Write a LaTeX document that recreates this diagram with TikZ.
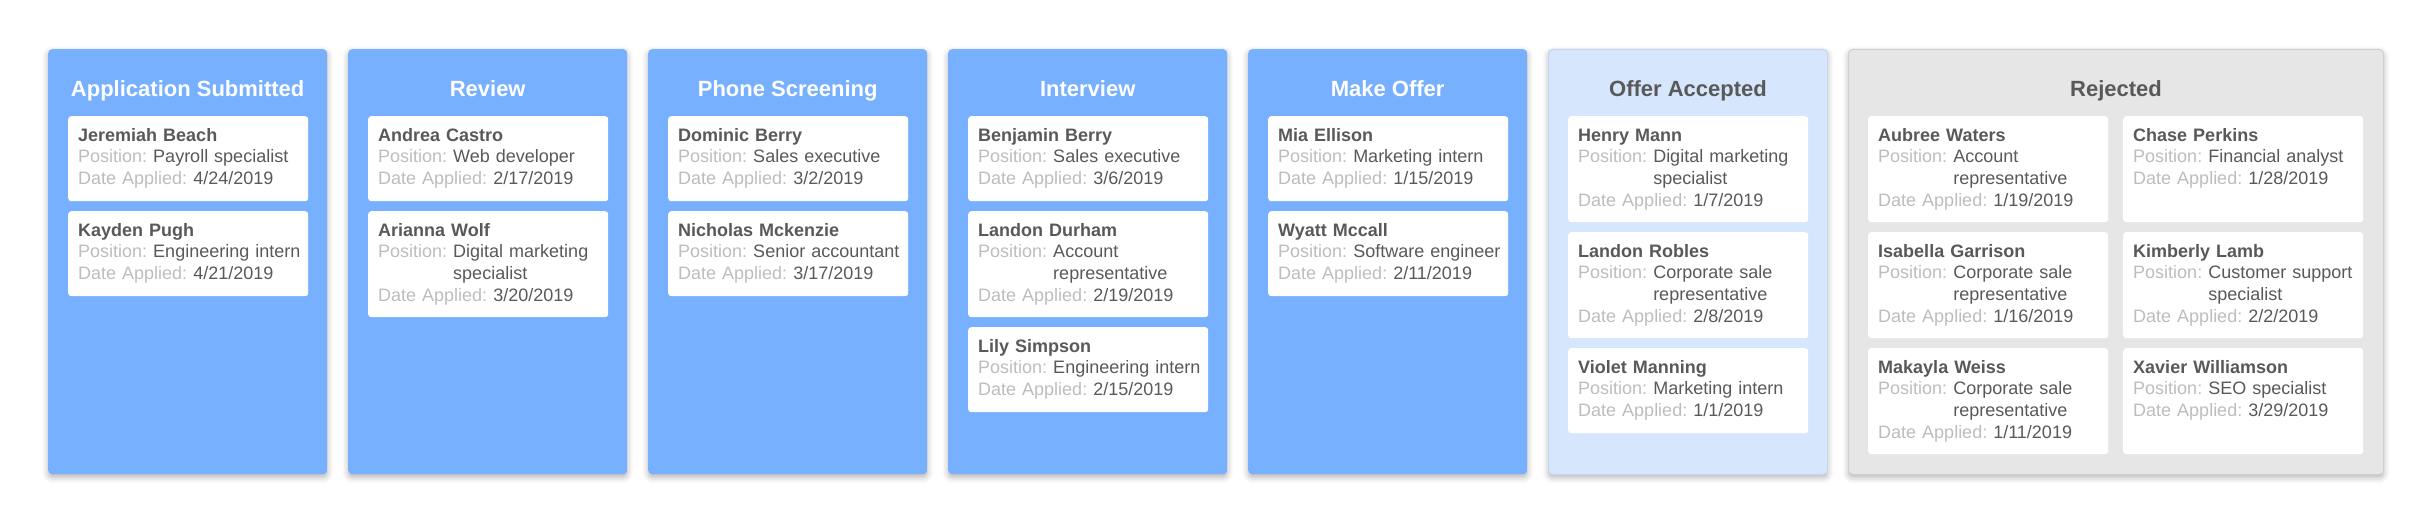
\documentclass[tikz,border=0pt]{standalone}
\usepackage{fontspec}
\setmainfont{Liberation Sans}
\usepackage{xcolor}
\usepackage{tikz}
\usetikzlibrary{positioning,shadows.blur}

\definecolor{laneblue}{HTML}{76B0FF}
\definecolor{lanelight}{HTML}{D5E6FD}
\definecolor{lanelightline}{HTML}{C6D5EB}
\definecolor{lanegray}{HTML}{E6E6E6}
\definecolor{lanegrayline}{HTML}{D0D0D0}
\definecolor{inktext}{HTML}{595959}
\definecolor{labeltext}{HTML}{BDBDBD}

\newcommand{\nextline}{\\\leavevmode\hphantom{Position:\ }}
\newcommand{\jobcard}[7]{%
    \node[card, minimum height=#4pt] (#1) at (#2,#3) {};
    \node[cardtext] (#1-text) at (#1.north west)
        {\strut\textbf{#5}\\
         \textcolor{labeltext}{Position:} #6\\
         \textcolor{labeltext}{Date Applied:} #7\strut};
}

\begin{document}
\begin{tikzpicture}
    [   x = 1pt
    ,   y = -1pt
    ,   lane/.style=
        {   anchor = north west
        ,   minimum width = 279pt
        ,   minimum height = 425pt
        ,   inner sep = 0pt
        ,   rounded corners = 4pt
        ,   blur shadow = {shadow xshift=0pt, shadow yshift=-3pt,
                           shadow blur radius=6pt, shadow opacity=30}
        }
    ,   lanetitle/.style=
        {   anchor = base
        ,   inner sep = 0pt
        ,   text = white
        ,   node font = \fontsize{22pt}{26pt}\selectfont\bfseries
        }
    ,   card/.style=
        {   anchor = north west
        ,   fill = white
        ,   minimum width = 240pt
        ,   inner sep = 0pt
        ,   rounded corners = 3pt
        }
    ,   cardtext/.style=
        {   anchor = north west
        ,   inner xsep = 10pt
        ,   inner ysep = 10pt
        ,   text width = 240pt
        ,   align = left
        ,   text = inktext
        ,   node font = \fontsize{18pt}{21.6pt}\selectfont\frenchspacing
        }
    ]
    \useasboundingbox (0,0) rectangle (2423,529);

    % lanes
    \foreach \i/\x/\name in {1/48/Application Submitted, 2/348/Review,
        3/648/Phone Screening, 4/948/Interview, 5/1248/Make Offer}
    {
        \node[lane, fill=laneblue] (lane\i) at (\x,49) {};
        \node[lanetitle] (title\i) at ([yshift=-48pt]lane\i.north) {\name};
    }
    \node[lane, fill=lanelight, draw=lanelightline, line width=1pt] (lane6) at (1548,49) {};
    \node[lanetitle, text=inktext] (title6) at ([yshift=-48pt]lane6.north) {Offer Accepted};
    \node[lane, fill=lanegray, draw=lanegrayline, line width=1pt,
          minimum width=535pt] (lane7) at (1848,49) {};
    \node[lanetitle, text=inktext] (title7) at ([yshift=-48pt]lane7.north) {Rejected};

    % cards
    \jobcard{beach}{68}{116}{85}{Jeremiah Beach}{Payroll specialist}{4/24/2019}
    \jobcard{pugh}{68}{211}{85}{Kayden Pugh}{Engineering intern}{4/21/2019}

    \jobcard{castro}{368}{116}{85}{Andrea Castro}{Web developer}{2/17/2019}
    \jobcard{wolf}{368}{211}{106}{Arianna Wolf}{Digital marketing\nextline specialist}{3/20/2019}

    \jobcard{dberry}{668}{116}{85}{Dominic Berry}{Sales executive}{3/2/2019}
    \jobcard{mckenzie}{668}{211}{85}{Nicholas Mckenzie}{Senior accountant}{3/17/2019}

    \jobcard{bberry}{968}{116}{85}{Benjamin Berry}{Sales executive}{3/6/2019}
    \jobcard{durham}{968}{211}{106}{Landon Durham}{Account\nextline representative}{2/19/2019}
    \jobcard{simpson}{968}{327}{85}{Lily Simpson}{Engineering intern}{2/15/2019}

    \jobcard{ellison}{1268}{116}{85}{Mia Ellison}{Marketing intern}{1/15/2019}
    \jobcard{mccall}{1268}{211}{85}{Wyatt Mccall}{Software engineer}{2/11/2019}

    \jobcard{mann}{1568}{116}{106}{Henry Mann}{Digital marketing\nextline specialist}{1/7/2019}
    \jobcard{robles}{1568}{232}{106}{Landon Robles}{Corporate sale\nextline representative}{2/8/2019}
    \jobcard{manning}{1568}{348}{85}{Violet Manning}{Marketing intern}{1/1/2019}

    \jobcard{waters}{1868}{116}{106}{Aubree Waters}{Account\nextline representative}{1/19/2019}
    \jobcard{perkins}{2123}{116}{106}{Chase Perkins}{Financial analyst}{1/28/2019}
    \jobcard{garrison}{1868}{232}{106}{Isabella Garrison}{Corporate sale\nextline representative}{1/16/2019}
    \jobcard{lamb}{2123}{232}{106}{Kimberly Lamb}{Customer support\nextline specialist}{2/2/2019}
    \jobcard{weiss}{1868}{348}{106}{Makayla Weiss}{Corporate sale\nextline representative}{1/11/2019}
    \jobcard{williamson}{2123}{348}{106}{Xavier Williamson}{SEO specialist}{3/29/2019}
\end{tikzpicture}
\end{document}
